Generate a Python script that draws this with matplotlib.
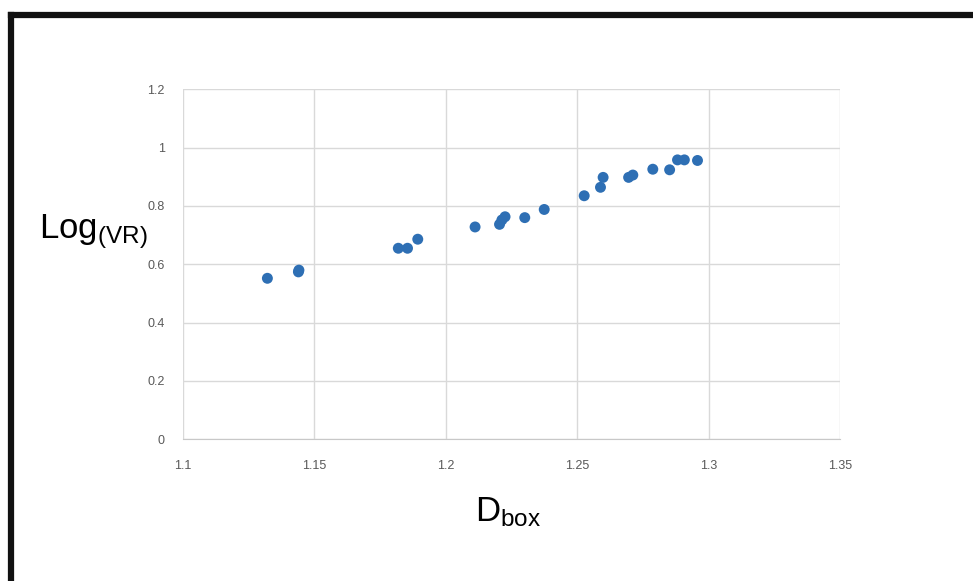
import numpy as np
import matplotlib
matplotlib.use('Agg')
import matplotlib.pyplot as plt
from matplotlib.lines import Line2D

# values
d_box = [1.1322, 1.1440, 1.1442, 1.1820, 1.1855, 1.1894,
         1.2112, 1.2205, 1.2214, 1.2226, 1.2301, 1.2375,
         1.2527, 1.2589, 1.2599, 1.2696, 1.2712, 1.2788,
         1.2852, 1.2882, 1.2908, 1.2958]
log_vr = [0.552, 0.574, 0.580, 0.655, 0.655, 0.686,
          0.728, 0.737, 0.752, 0.763, 0.760, 0.788,
          0.835, 0.864, 0.898, 0.898, 0.906, 0.926,
          0.924, 0.958, 0.958, 0.956]
x_ticks = [1.1, 1.15, 1.2, 1.25, 1.3, 1.35]
x_tick_labels = ['1.1', '1.15', '1.2', '1.25', '1.3', '1.35']
y_ticks = [0, 0.2, 0.4, 0.6, 0.8, 1.0, 1.2]
y_tick_labels = ['0', '0.2', '0.4', '0.6', '0.8', '1', '1.2']

plt.rcParams['mathtext.default'] = 'regular'
plt.rcParams['font.family'] = ['Liberation Sans', 'DejaVu Sans']

fig = plt.figure(figsize=(9.73, 5.81), dpi=100)
ax = fig.add_axes([0.1878, 0.2439, 0.8633 - 0.1878, 0.8463 - 0.2439])

ax.scatter(d_box, log_vr, s=62, color='#2e6fb4', edgecolors='none', zorder=3)

ax.set_xlim(1.1, 1.35)
ax.set_ylim(0, 1.2)
ax.set_xticks(x_ticks)
ax.set_xticklabels(x_tick_labels)
ax.set_yticks(y_ticks)
ax.set_yticklabels(y_tick_labels)
ax.tick_params(length=0, labelsize=9, labelcolor='#595959')
ax.tick_params(axis='x', pad=15)
ax.tick_params(axis='y', pad=13)
ax.grid(True, color='#d9d9d9', linewidth=1)
for s in ['top', 'right', 'left']:
    ax.spines[s].set_visible(False)
ax.spines['bottom'].set_color('#c8c8c8')

fig.text(0.040, 0.5904, r'Log$_{(VR)}$', fontsize=25, va='baseline', ha='left')
fig.text(0.488, 0.1033, r'D$_{box}$', fontsize=25, va='baseline', ha='left')

# black frame around the figure (top and left edges visible)
fig.add_artist(Line2D([0.0118, 1.0], [0.9742, 0.9742], transform=fig.transFigure,
                      color='#111111', linewidth=4.5, solid_capstyle='projecting'))
fig.add_artist(Line2D([0.0118, 0.0118], [0.0, 0.9742], transform=fig.transFigure,
                      color='#111111', linewidth=4.5, solid_capstyle='projecting'))

plt.savefig('out.png', dpi=100)
